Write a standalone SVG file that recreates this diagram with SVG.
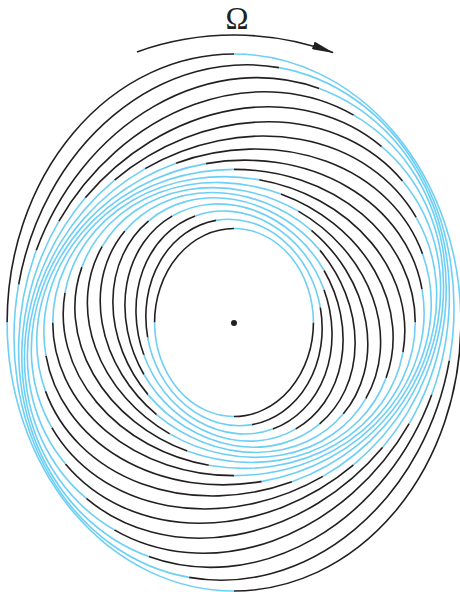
<svg xmlns="http://www.w3.org/2000/svg" width="460" height="592" viewBox="0 0 460 592">
<style>
ellipse{fill:none;stroke-width:1.6;stroke-dasharray:1 1}
.k{stroke:#231f20}
.b{stroke:#6dcff6;stroke-dashoffset:1}
.arrow{fill:none;stroke:#231f20;stroke-width:1.6}
text{font-family:"Liberation Serif","Times New Roman",serif;font-size:31px;fill:#231f20}
</style>
<defs>
<marker id="ah" markerUnits="userSpaceOnUse" viewBox="0 0 22 8" markerWidth="22" markerHeight="8" refX="21" refY="4" orient="auto">
<path d="M0,0 L22,4 L0,8 z" fill="#231f20"/>
</marker>
</defs>
<rect width="460" height="592" fill="#ffffff"/>
<g id="rings">
<g id="ring0" transform="rotate(0 234 322.5)"><ellipse class="k" cx="234" cy="322.5" rx="79.43" ry="94" pathLength="4"/><ellipse class="b" cx="234" cy="322.5" rx="79.43" ry="94" pathLength="4"/></g>
<g id="ring1" transform="rotate(-10 234 322.5)"><ellipse class="k" cx="234" cy="322.5" rx="87.62" ry="103.69" pathLength="4"/><ellipse class="b" cx="234" cy="322.5" rx="87.62" ry="103.69" pathLength="4"/></g>
<g id="ring2" transform="rotate(-20 234 322.5)"><ellipse class="k" cx="234" cy="322.5" rx="95.81" ry="113.39" pathLength="4"/><ellipse class="b" cx="234" cy="322.5" rx="95.81" ry="113.39" pathLength="4"/></g>
<g id="ring3" transform="rotate(-30 234 322.5)"><ellipse class="k" cx="234" cy="322.5" rx="104" ry="123.08" pathLength="4"/><ellipse class="b" cx="234" cy="322.5" rx="104" ry="123.08" pathLength="4"/></g>
<g id="ring4" transform="rotate(-40 234 322.5)"><ellipse class="k" cx="234" cy="322.5" rx="112.2" ry="132.78" pathLength="4"/><ellipse class="b" cx="234" cy="322.5" rx="112.2" ry="132.78" pathLength="4"/></g>
<g id="ring5" transform="rotate(-50 234 322.5)"><ellipse class="k" cx="234" cy="322.5" rx="120.39" ry="142.47" pathLength="4"/><ellipse class="b" cx="234" cy="322.5" rx="120.39" ry="142.47" pathLength="4"/></g>
<g id="ring6" transform="rotate(-60 234 322.5)"><ellipse class="k" cx="234" cy="322.5" rx="128.58" ry="152.16" pathLength="4"/><ellipse class="b" cx="234" cy="322.5" rx="128.58" ry="152.16" pathLength="4"/></g>
<g id="ring7" transform="rotate(-70 234 322.5)"><ellipse class="k" cx="234" cy="322.5" rx="136.77" ry="161.86" pathLength="4"/><ellipse class="b" cx="234" cy="322.5" rx="136.77" ry="161.86" pathLength="4"/></g>
<g id="ring8" transform="rotate(-80 234 322.5)"><ellipse class="k" cx="234" cy="322.5" rx="144.96" ry="171.55" pathLength="4"/><ellipse class="b" cx="234" cy="322.5" rx="144.96" ry="171.55" pathLength="4"/></g>
<g id="ring9" transform="rotate(-90 234 322.5)"><ellipse class="k" cx="234" cy="322.5" rx="153.16" ry="181.25" pathLength="4"/><ellipse class="b" cx="234" cy="322.5" rx="153.16" ry="181.25" pathLength="4"/></g>
<g id="ring10" transform="rotate(-100 234 322.5)"><ellipse class="k" cx="234" cy="322.5" rx="161.35" ry="190.94" pathLength="4"/><ellipse class="b" cx="234" cy="322.5" rx="161.35" ry="190.94" pathLength="4"/></g>
<g id="ring11" transform="rotate(-110 234 322.5)"><ellipse class="k" cx="234" cy="322.5" rx="169.54" ry="200.63" pathLength="4"/><ellipse class="b" cx="234" cy="322.5" rx="169.54" ry="200.63" pathLength="4"/></g>
<g id="ring12" transform="rotate(-120 234 322.5)"><ellipse class="k" cx="234" cy="322.5" rx="177.73" ry="210.33" pathLength="4"/><ellipse class="b" cx="234" cy="322.5" rx="177.73" ry="210.33" pathLength="4"/></g>
<g id="ring13" transform="rotate(-130 234 322.5)"><ellipse class="k" cx="234" cy="322.5" rx="185.92" ry="220.02" pathLength="4"/><ellipse class="b" cx="234" cy="322.5" rx="185.92" ry="220.02" pathLength="4"/></g>
<g id="ring14" transform="rotate(-140 234 322.5)"><ellipse class="k" cx="234" cy="322.5" rx="194.11" ry="229.72" pathLength="4"/><ellipse class="b" cx="234" cy="322.5" rx="194.11" ry="229.72" pathLength="4"/></g>
<g id="ring15" transform="rotate(-150 234 322.5)"><ellipse class="k" cx="234" cy="322.5" rx="202.3" ry="239.41" pathLength="4"/><ellipse class="b" cx="234" cy="322.5" rx="202.3" ry="239.41" pathLength="4"/></g>
<g id="ring16" transform="rotate(-160 234 322.5)"><ellipse class="k" cx="234" cy="322.5" rx="210.49" ry="249.1" pathLength="4"/><ellipse class="b" cx="234" cy="322.5" rx="210.49" ry="249.1" pathLength="4"/></g>
<g id="ring17" transform="rotate(-170 234 322.5)"><ellipse class="k" cx="234" cy="322.5" rx="218.69" ry="258.8" pathLength="4"/><ellipse class="b" cx="234" cy="322.5" rx="218.69" ry="258.8" pathLength="4"/></g>
<g id="ring18" transform="rotate(-180 234 322.5)"><ellipse class="k" cx="234" cy="322.5" rx="226.88" ry="268.5" pathLength="4"/><ellipse class="b" cx="234" cy="322.5" rx="226.88" ry="268.5" pathLength="4"/></g>
</g>
<g id="center"><circle cx="234" cy="323" r="3" fill="#231f20"/></g>
<g id="connectors">
<path class="arrow" d="M137,51.9 A287.5,287.5 0 0 1 333,52.6" marker-end="url(#ah)"/>
</g>
<g id="omega-label"><text x="237" y="28.5" text-anchor="middle">Ω</text></g>
</svg>
